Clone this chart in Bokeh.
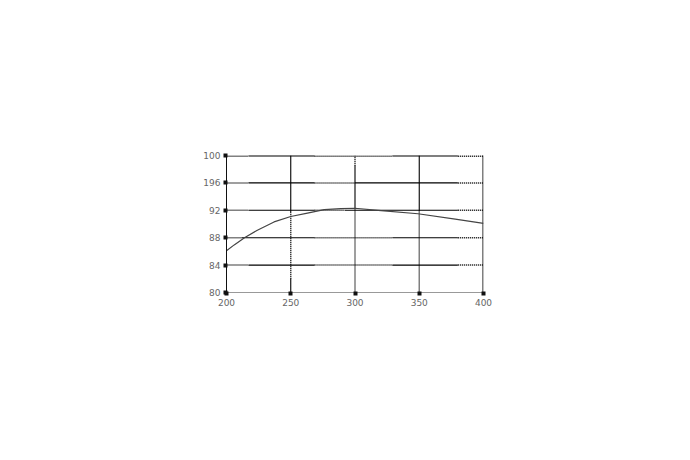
from bokeh.plotting import figure
from bokeh.models import Range1d, FixedTicker, ColumnDataSource
from bokeh.embed import file_html
from bokeh.resources import INLINE

# ---- data ----
x_vals = [200, 206, 214, 224, 237, 250, 263, 276, 289, 300, 318, 349, 378, 400]
y_vals = [86.1, 86.95, 88.0, 89.1, 90.3, 91.1, 91.6, 92.1, 92.25, 92.3, 92.0, 91.5, 90.7, 90.1]
x_ticks = [200, 250, 300, 350, 400]
y_ticks = [80, 84, 88, 92, 96, 100]
y_tick_labels = {96: "196"}

# grid pattern: (x0, x1, y0, y1, style)
grid_segments = [
    # horizontal rows
    (200, 217, 100, 100, "dot"), (217, 268.5, 100, 100, "solid"), (268.5, 329, 100, 100, "dot"),
    (329, 380, 100, 100, "solid"), (380, 400, 100, 100, "dot"),
    (200, 217, 96, 96, "dot"), (217, 268.5, 96, 96, "solid"), (268.5, 300, 96, 96, "dot"),
    (300, 380, 96, 96, "solid"), (380, 400, 96, 96, "dot"),
    (200, 217, 92, 92, "dot"), (217, 268.5, 92, 92, "solid"), (268.5, 292, 92, 92, "dot"),
    (292, 380, 92, 92, "solid"), (380, 400, 92, 92, "dot"),
    (200, 212, 88, 88, "dot"), (212, 268.5, 88, 88, "solid"), (268.5, 329, 88, 88, "dot"),
    (329, 380, 88, 88, "solid"), (380, 400, 88, 88, "dot"),
    (200, 217, 84, 84, "dot"), (217, 268.5, 84, 84, "solid"), (268.5, 329, 84, 84, "dot"),
    (329, 380, 84, 84, "solid"), (380, 400, 84, 84, "dot"),
    # vertical columns
    (250, 250, 91.6, 100, "solid"), (250, 250, 82.0, 91.6, "dot"), (250, 250, 80, 82.0, "solid"),
    (300, 300, 98.5, 100, "dot"), (300, 300, 92.2, 98.5, "solid"), (300, 300, 80, 92.2, "dot"),
    (350, 350, 91.9, 100, "solid"), (350, 350, 80, 91.9, "dot"),
    (400, 400, 80, 100, "dot"),
]

p = figure(width=674, height=444,
           x_range=Range1d(200, 400), y_range=Range1d(80, 100),
           output_backend="svg", toolbar_location=None,
           min_border_left=226, min_border_right=191,
           min_border_top=155, min_border_bottom=152)
p.outline_line_color = None
p.xgrid.visible = False
p.ygrid.visible = False
p.background_fill_color = "white"
p.border_fill_color = "white"

for style in ("dot", "solid"):
    segs = [s for s in grid_segments if s[4] == style]
    base = 1.5 if style == "dot" else 1.1
    # lines on the frame edge get half clipped, so draw them twice as wide
    widths = [base * 2 if (s[2] == y_ticks[-1] and s[3] == y_ticks[-1]) or
              (s[0] == x_ticks[-1] and s[1] == x_ticks[-1]) else base for s in segs]
    src = ColumnDataSource(dict(x0=[s[0] for s in segs], x1=[s[1] for s in segs],
                                y0=[s[2] for s in segs], y1=[s[3] for s in segs],
                                w=widths))
    p.segment(x0="x0", x1="x1", y0="y0", y1="y1", source=src,
              line_color="#000000", line_width="w",
              line_dash="1 1" if style == "dot" else "solid")

p.line(x_vals, y_vals, line_color="#444444", line_width=1.2, line_join="round")

# axes with square tick marks
for ax in (p.xaxis[0], p.yaxis[0]):
    ax.minor_tick_line_color = None
    ax.major_tick_line_color = "#111111"
    ax.major_tick_line_width = 4
    ax.major_tick_line_cap = "butt"
    ax.major_label_text_font = "DejaVu Sans"
    ax.major_label_text_font_size = "9px"
    ax.major_label_text_color = "#666666"
p.yaxis.major_tick_in = 1
p.yaxis.major_tick_out = 3
p.yaxis.major_label_standoff = 3
p.xaxis.major_tick_in = 1
p.xaxis.major_tick_out = 3
p.xaxis.major_label_standoff = 3
p.xaxis.ticker = FixedTicker(ticks=x_ticks)
p.yaxis.ticker = FixedTicker(ticks=y_ticks)
p.yaxis.major_label_overrides = y_tick_labels
p.yaxis.axis_line_color = "#111111"
p.xaxis.axis_line_color = "#999999"

open("out.html", "w").write(file_html(p, INLINE))
